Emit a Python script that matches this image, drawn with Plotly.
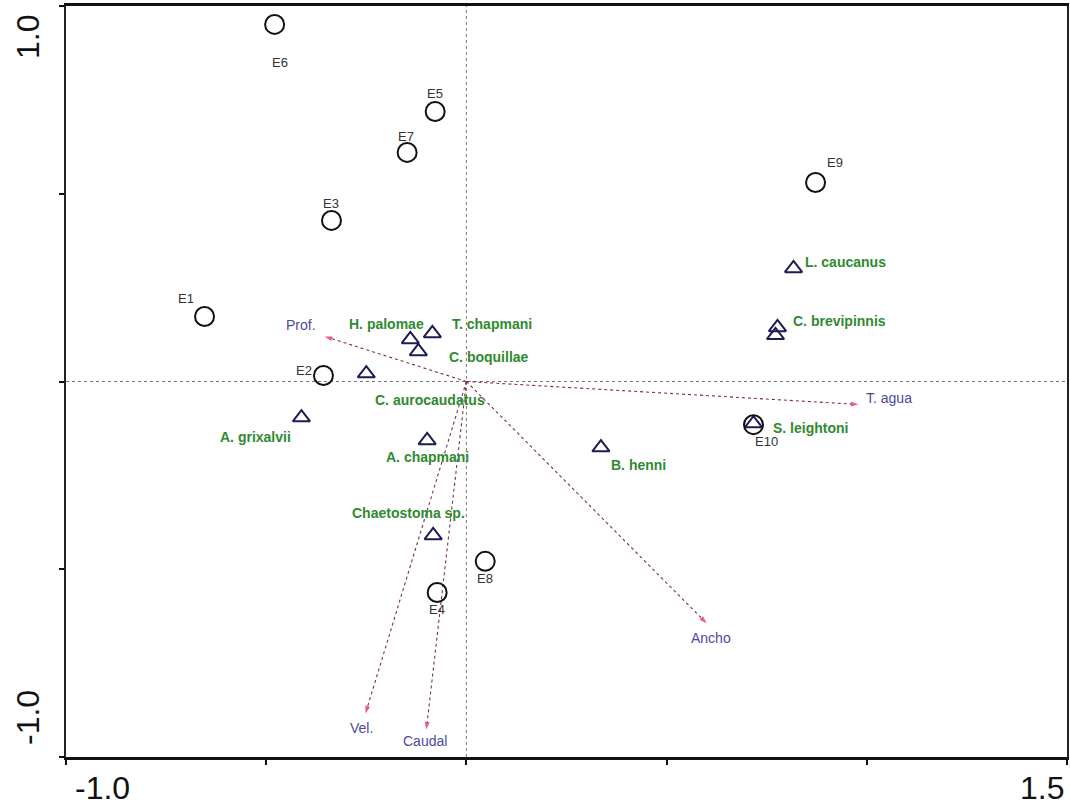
import plotly.graph_objects as go

# ---------------- data ----------------
site_names = ["E1", "E2", "E3", "E4", "E5", "E6", "E7", "E8", "E9", "E10"]
site_x = [-0.654, -0.357, -0.337, -0.073, -0.078, -0.479, -0.148, 0.047, 0.872, 0.717]
site_y = [0.173, 0.016, 0.429, -0.562, 0.719, 0.951, 0.610, -0.479, 0.530, -0.115]

species_names = ["H. palomae", "T. chapmani", "C. boquillae", "C. aurocaudatus",
                 "A. chapmani", "B. henni", "A. grixalvii", "Chaetostoma sp.",
                 "L. caucanus", "C. brevipinnis", "", "S. leightoni"]
species_x = [-0.140, -0.085, -0.120, -0.250, -0.098, 0.336, -0.412, -0.083,
             0.817, 0.777, 0.772, 0.717]
species_y = [0.112, 0.128, 0.080, 0.021, -0.157, -0.176, -0.096, -0.410,
             0.301, 0.144, 0.123, -0.112]

env_names = ["Prof.", "T. agua", "Ancho", "Vel.", "Caudal"]
env_x = [-0.354, 0.979, 0.600, -0.252, -0.100]
env_y = [0.120, -0.061, -0.644, -0.884, -0.927]

x_tick_vals = [-1.0, -0.5, 0.0, 0.5, 1.0, 1.5]
y_tick_vals = [-1.0, -0.5, 0.0, 0.5, 1.0]
x_end_labels = ["-1.0", "1.5"]
y_end_labels = ["-1.0", "1.0"]

# ---------------- label offsets (pixels) ----------------
site_off = {"E1": (-19, 18), "E2": (-19, 5), "E3": (0, 17), "E4": (0, -17),
            "E5": (0, 18), "E6": (5, -38), "E7": (-1, 16), "E8": (0, -17),
            "E9": (19, 20), "E10": (13, -17)}
species_off = {"H. palomae": (-24, 15), "T. chapmani": (60, 9),
               "C. boquillae": (71, -6), "C. aurocaudatus": (64, -26),
               "A. chapmani": (0, -17), "B. henni": (38, -17),
               "A. grixalvii": (-46, -19), "Chaetostoma sp.": (-25, 22),
               "L. caucanus": (52, 6), "C. brevipinnis": (62, 6),
               "S. leightoni": (57, -4)}
env_off = {"Prof.": (-24, 11), "T. agua": (31, 6), "Ancho": (4, -15),
           "Vel.": (-4, -15), "Caudal": (-1, -11)}

FONT = "Liberation Sans, Arial, sans-serif"
GREEN = "#2f8a2f"
ENVCOL = "#4a4a9c"
ARROW_LINE = "#7a3048"
ARROW_HEAD = "#d8194a"

fig = go.Figure()

# environmental arrows
for n, ex, ey in zip(env_names, env_x, env_y):
    fig.add_trace(go.Scatter(
        x=[0, ex], y=[0, ey], mode="lines+markers",
        line=dict(color=ARROW_LINE, width=1.1, dash="dot"),
        marker=dict(symbol=["circle", "arrow"], size=[0, 8], angleref="previous",
                    color=ARROW_HEAD, line=dict(width=0)),
        hoverinfo="skip", showlegend=False))

# species
fig.add_trace(go.Scatter(
    x=species_x, y=species_y, mode="markers",
    marker=dict(symbol="triangle-up-open", size=15, color="#1c1c55",
                line=dict(width=2, color="#1c1c55")),
    text=species_names, hoverinfo="text", showlegend=False))

# sites
fig.add_trace(go.Scatter(
    x=site_x, y=site_y, mode="markers",
    marker=dict(symbol="circle-open", size=19, color="#111111",
                line=dict(width=2, color="#111111")),
    text=site_names, hoverinfo="text", showlegend=False))

ann = []
for n, sx, sy in zip(site_names, site_x, site_y):
    dx, dy = site_off[n]
    ann.append(dict(x=sx, y=sy, xref="x", yref="y", text=n, showarrow=False,
                    xanchor="center", yanchor="middle",
                    xshift=dx, yshift=dy, font=dict(family=FONT, size=13, color="#333333")))
for n, sx, sy in zip(species_names, species_x, species_y):
    if not n:
        continue
    dx, dy = species_off[n]
    ann.append(dict(x=sx, y=sy, xref="x", yref="y", text="<b>" + n + "</b>", showarrow=False,
                    xanchor="center", yanchor="middle",
                    xshift=dx, yshift=dy, font=dict(family=FONT, size=14, color=GREEN)))
for n, ex, ey in zip(env_names, env_x, env_y):
    dx, dy = env_off[n]
    ann.append(dict(x=ex, y=ey, xref="x", yref="y", text=n, showarrow=False,
                    xanchor="center", yanchor="middle",
                    xshift=dx, yshift=dy, font=dict(family=FONT, size=14, color=ENVCOL)))

# axis end labels
BIG = dict(family=FONT, size=32, color="#111111")
ann.append(dict(x=x_tick_vals[0], y=0, xref="x", yref="paper", text=x_end_labels[0],
                showarrow=False, xanchor="center", yanchor="middle",
                xshift=36, yshift=-31, font=BIG))
ann.append(dict(x=x_tick_vals[-1], y=0, xref="x", yref="paper", text=x_end_labels[1],
                showarrow=False, xanchor="center", yanchor="middle",
                xshift=-25, yshift=-31, font=BIG))
ann.append(dict(x=0, y=y_tick_vals[0], xref="paper", yref="y", text=y_end_labels[0],
                showarrow=False, xanchor="center", yanchor="middle",
                xshift=-38, yshift=39, textangle=-90, font=BIG))
ann.append(dict(x=0, y=y_tick_vals[-1], xref="paper", yref="y", text=y_end_labels[1],
                showarrow=False, xanchor="center", yanchor="middle",
                xshift=-38, yshift=-31, textangle=-90, font=BIG))

shapes = [
    dict(type="line", xref="x", yref="y", x0=0, x1=0, y0=y_tick_vals[0], y1=y_tick_vals[-1],
         line=dict(color="#777777", width=1, dash="dot"), layer="below"),
    dict(type="line", xref="x", yref="y", x0=x_tick_vals[0], x1=x_tick_vals[-1], y0=0, y1=0,
         line=dict(color="#777777", width=1, dash="dot"), layer="below"),
]

fig.update_layout(
    width=1070, height=805,
    margin=dict(l=66, r=1, t=6, b=48),
    paper_bgcolor="white", plot_bgcolor="white",
    annotations=ann, shapes=shapes, showlegend=False,
    xaxis=dict(range=[x_tick_vals[0], x_tick_vals[-1]], tickvals=x_tick_vals,
               showticklabels=False, ticks="outside", ticklen=5, tickwidth=1.5,
               tickcolor="#111111", showline=True, linewidth=2.5, linecolor="#111111",
               mirror=True, showgrid=False, zeroline=False),
    yaxis=dict(range=[y_tick_vals[0], y_tick_vals[-1]], tickvals=y_tick_vals,
               showticklabels=False, ticks="outside", ticklen=5, tickwidth=1.5,
               tickcolor="#111111", showline=True, linewidth=2, linecolor="#222222",
               mirror=True, showgrid=False, zeroline=False),
)

fig.write_html("out.html", config={"displayModeBar": False},
               post_script="document.body.style.margin='0';")
